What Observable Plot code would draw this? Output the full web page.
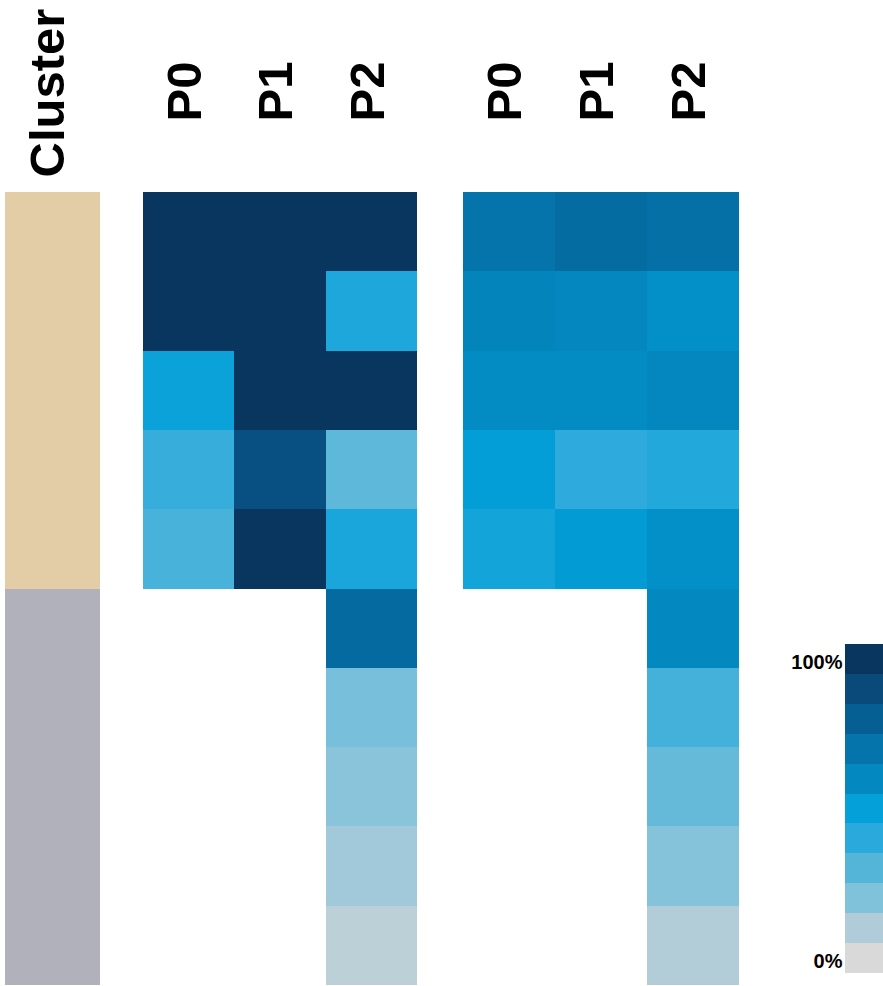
<!DOCTYPE html>
<html>
<head>
<meta charset="utf-8">
<script src="https://cdn.jsdelivr.net/npm/d3@7"></script>
<script src="https://cdn.jsdelivr.net/npm/@observablehq/plot@0.6"></script>
<style>
  body { margin: 0; background: #fff; }
  #wrap { display: flex; flex-direction: row; width: 883px; height: 986px; }
  #wrap svg { display: block; flex: none; background: transparent; }
</style>
</head>
<body>
<div id="wrap"></div>
<script>
// ---- data ----
const rowIds = ["r1","r2","r3","r4","r5","r6","r7","r8","r9","r10"];
const clusterNames = ["A","A","A","A","A","B","B","B","B","B"];
const clusterColors = {A: "#e2cda7", B: "#b1b1bb"};
const columns = ["P0","P1","P2"];

const leftP0 = [1.00, 1.00, 0.48, 0.37, 0.33, null, null, null, null, null];
const leftP1 = [1.00, 1.00, 1.00, 0.87, 1.00, null, null, null, null, null];
const leftP2 = [1.00, 0.43, 1.00, 0.28, 0.44, 0.75, 0.22, 0.18, 0.13, 0.07];

const rightP0 = [0.70, 0.62, 0.59, 0.51, 0.46, null, null, null, null, null];
const rightP1 = [0.74, 0.61, 0.59, 0.39, 0.52, null, null, null, null, null];
const rightP2 = [0.72, 0.57, 0.61, 0.42, 0.57, 0.60, 0.34, 0.26, 0.19, 0.09];

const legendStops = [0, 0.1, 0.2, 0.3, 0.4, 0.5, 0.6, 0.7, 0.8, 0.9, 1.0];
const legendColors = ["#d9d9d9","#afccd8","#80c2da","#55b5d9","#2aaadc","#03a0d9",
                      "#0389c0","#0474aa","#065f93","#0a4a7a","#08365f"];
const legendTicks = [1.0, 0];
const legendTickLabels = ["100%", "0%"];

// ---- helpers ----
const FONT = "'Liberation Sans', Arial, Helvetica, sans-serif";
const H = 986;
const colorScale = {type: "linear", domain: legendStops, range: legendColors, interpolate: "rgb", clamp: true};

function table(p0, p1, p2) {
  const cols = [p0, p1, p2];
  return rowIds.flatMap((r, i) => columns.map((c, j) => ({row: r, col: c, v: cols[j][i]})))
               .filter(d => d.v != null);
}

function heatmap(data, width, ml, mr) {
  return Plot.plot({
    width, height: H,
    marginTop: 192, marginBottom: 1, marginLeft: ml, marginRight: mr,
    style: {fontFamily: FONT, background: "transparent"},
    x: {domain: columns, padding: 0, round: false, axis: null},
    y: {domain: rowIds, padding: 0, round: false, axis: null},
    color: colorScale,
    marks: [
      Plot.cell(data, {x: "col", y: "row", fill: "v", inset: 0, shapeRendering: "crispEdges"}),
      Plot.text(columns, {x: d => d, frameAnchor: "top", rotate: -90, textAnchor: "start",
        lineAnchor: "middle", dy: -71, dx: -4, fontSize: 49, fontWeight: "bold", fill: "#000"})
    ]
  });
}

const wrap = document.getElementById("wrap");

// Cluster column
const clusterData = rowIds.map((r, i) => ({row: r, col: "Cluster", c: clusterNames[i]}));
wrap.append(Plot.plot({
  width: 120, height: H,
  marginTop: 192, marginBottom: 1, marginLeft: 5, marginRight: 20,
  style: {fontFamily: FONT, background: "transparent"},
  x: {domain: ["Cluster"], padding: 0, round: false, axis: null},
  y: {domain: rowIds, padding: 0, round: false, axis: null},
  marks: [
    Plot.cell(clusterData, {x: "col", y: "row", fill: d => clusterColors[d.c], inset: 0, shapeRendering: "crispEdges"}),
    Plot.text(["Cluster"], {x: d => d, frameAnchor: "top", rotate: -90, textAnchor: "start",
      lineAnchor: "middle", dy: -15, dx: -5, fontSize: 49, fontWeight: "bold", fill: "#000"})
  ]
}));

// Left heatmap
wrap.append(heatmap(table(leftP0, leftP1, leftP2), 320, 23, 23));
// Right heatmap
wrap.append(heatmap(table(rightP0, rightP1, rightP2), 320, 23, 21));

// Legend
wrap.append(Plot.plot({
  width: 123, height: H,
  marginTop: 644, marginBottom: 13, marginLeft: 85, marginRight: 0,
  style: {fontFamily: FONT, background: "transparent"},
  x: {domain: ["legend"], padding: 0, round: false, axis: null},
  y: {domain: legendStops.slice().reverse(), padding: 0, round: false, axis: null},
  color: colorScale,
  marks: [
    Plot.cell(legendStops, {x: () => "legend", y: d => d, fill: d => d, inset: 0, shapeRendering: "crispEdges"}),
    Plot.axisY(legendTicks, {anchor: "left", tickSize: 0, tickPadding: 3, dy: 3,
      tickFormat: (d) => legendTickLabels[legendTicks.indexOf(d)],
      fontSize: 20, fontWeight: "bold", fill: "#000"})
  ]
}));
</script>
</body>
</html>
